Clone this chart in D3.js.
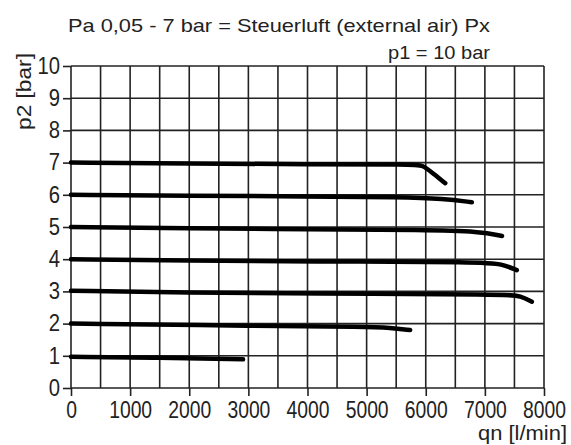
<!DOCTYPE html>
<html>
<head>
<meta charset="utf-8">
<script src="https://cdn.jsdelivr.net/npm/d3@7"></script>
<style>
  body { margin: 0; background: #fff; }
  text { font-family: "Liberation Sans", Arial, sans-serif; fill: #222; }
</style>
</head>
<body>
<div id="graph"></div>
<script>
// flow q [l/min] vs outlet pressure p2 [bar], one curve per setting
var xTicks = [0, 1000, 2000, 3000, 4000, 5000, 6000, 7000, 8000];
var yTicks = [0, 1, 2, 3, 4, 5, 6, 7, 8, 9, 10];
var curve7 = [[0, 7.0], [2000, 6.97], [4000, 6.95], [5800, 6.94], [5950, 6.92], [6100, 6.7], [6330, 6.36]];
var curve6 = [[0, 6.0], [2000, 5.97], [4000, 5.95], [5600, 5.93], [6300, 5.88], [6780, 5.77]];
var curve5 = [[0, 5.0], [2000, 4.96], [4000, 4.93], [6000, 4.91], [6920, 4.86], [7290, 4.72]];
var curve4 = [[0, 4.0], [2000, 3.96], [4000, 3.93], [7000, 3.91], [7300, 3.84], [7540, 3.66]];
var curve3 = [[0, 3.02], [2000, 2.96], [4000, 2.93], [7400, 2.91], [7600, 2.86], [7795, 2.68]];
var curve2 = [[0, 2.0], [3200, 1.93], [5000, 1.9], [5400, 1.87], [5736, 1.8]];
var curve1 = [[0, 0.97], [1500, 0.94], [2910, 0.89]];
var curves = [curve7, curve6, curve5, curve4, curve3, curve2, curve1];

var w = 571;
var h = 445;
var mLeft = 71, mRight = 544, mTop = 66, mBottom = 388;

var svg = d3.select("#graph")
            .append("svg")
            .attr("width", w)
            .attr("height", h);

var x = d3.scaleLinear().domain([0, 8000]).range([mLeft, mRight]);
var y = d3.scaleLinear().domain([0, 10]).range([mBottom, mTop]);

// squeeze a text to look like the narrow font of the original
function narrow(sel, f) {
  sel.each(function() {
    var len = this.getComputedTextLength();
    d3.select(this).attr("textLength", len * f).attr("lengthAdjust", "spacingAndGlyphs");
  });
}

// grid, every 500 l/min and every bar
svg.append("g")
  .selectAll("line")
  .data(d3.range(0, 8001, 500))
  .enter()
  .append("line")
    .attr("x1", function(d) { return x(d); })
    .attr("x2", function(d) { return x(d); })
    .attr("y1", y(0))
    .attr("y2", y(10))
    .attr("stroke", "#222")
    .attr("stroke-width", 1.6);

svg.append("g")
  .selectAll("line")
  .data(yTicks)
  .enter()
  .append("line")
    .attr("x1", x(0))
    .attr("x2", x(8000))
    .attr("y1", function(d) { return y(d); })
    .attr("y2", function(d) { return y(d); })
    .attr("stroke", "#222")
    .attr("stroke-width", 1.6);

// axes
var xAxis = svg.append("g")
  .attr("transform", "translate(0," + mBottom + ")")
  .call(d3.axisBottom(x).tickValues(xTicks).tickSize(8).tickPadding(6).tickFormat(d3.format("d")));
var yAxis = svg.append("g")
  .attr("transform", "translate(" + mLeft + ",0)")
  .call(d3.axisLeft(y).tickValues(yTicks).tickSize(8).tickPadding(3));

[xAxis, yAxis].forEach(function(g) {
  g.select(".domain").remove();
  g.selectAll("line").attr("stroke", "#222").attr("stroke-width", 1.6);
  g.selectAll("text").attr("font-size", "23px").attr("fill", "#222");
});
xAxis.selectAll("text").call(narrow, 0.84);
yAxis.selectAll("text").call(narrow, 0.88);

// curves
var line = d3.line()
  .x(function(d) { return x(d[0]); })
  .y(function(d) { return y(d[1]); })
  .curve(d3.curveBasis);

svg.append("g")
  .selectAll("path")
  .data(curves)
  .enter()
  .append("path")
    .attr("d", line)
    .attr("fill", "none")
    .attr("stroke", "#000")
    .attr("stroke-width", 4.5)
    .attr("stroke-linecap", "round");

// labels
svg.append("text")
  .attr("x", 68).attr("y", 32)
  .attr("font-size", "19px")
  .attr("textLength", 422)
  .attr("lengthAdjust", "spacingAndGlyphs")
  .text("Pa 0,05 - 7 bar = Steuerluft (external air) Px");

svg.append("text")
  .attr("x", 388).attr("y", 59)
  .attr("font-size", "19px")
  .attr("textLength", 102)
  .attr("lengthAdjust", "spacingAndGlyphs")
  .text("p1 = 10 bar");

svg.append("text")
  .attr("transform", "translate(31,130) rotate(-90)")
  .attr("font-size", "20px")
  .attr("textLength", 77)
  .attr("lengthAdjust", "spacingAndGlyphs")
  .text("p2 [bar]");

svg.append("text")
  .attr("x", 478).attr("y", 440)
  .attr("font-size", "21px")
  .attr("textLength", 89)
  .attr("lengthAdjust", "spacingAndGlyphs")
  .text("qn [l/min]");
</script>
</body>
</html>
